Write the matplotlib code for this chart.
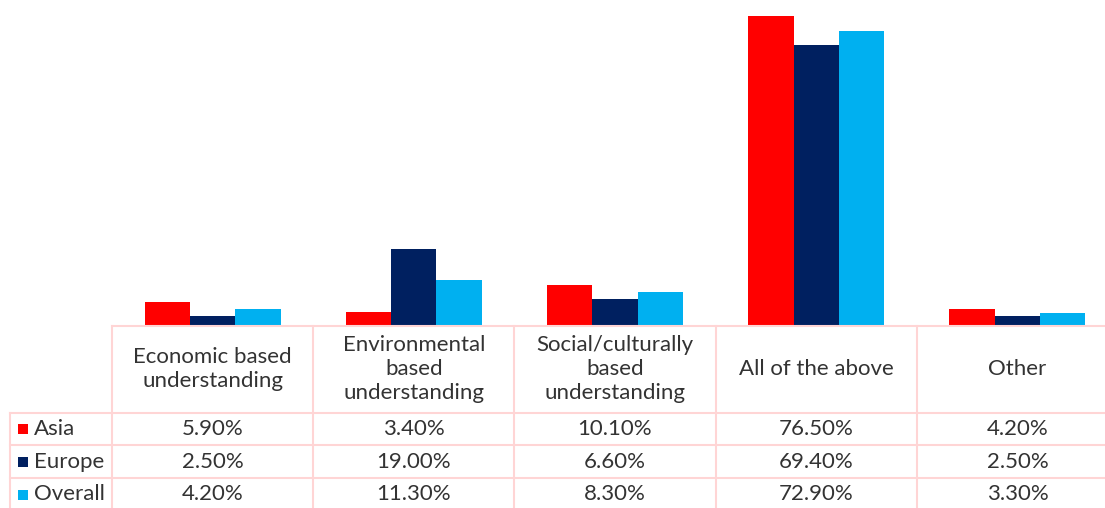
import matplotlib.pyplot as plt
from matplotlib.transforms import blended_transform_factory
import numpy as np

categories = ["Economic based\nunderstanding", "Environmental\nbased\nunderstanding",
              "Social/culturally\nbased\nunderstanding", "All of the above", "Other"]
series = ["Asia", "Europe", "Overall"]
asia = [5.9, 3.4, 10.1, 76.5, 4.2]
europe = [2.5, 19.0, 6.6, 69.4, 2.5]
overall = [4.2, 11.3, 8.3, 72.9, 3.3]
colors = ["#FF0000", "#002060", "#00B0F0"]

plt.rcParams['font.family'] = ['Lato', 'DejaVu Sans']
W, H = 1105, 508
fig = plt.figure(figsize=(W / 100, H / 100), dpi=100)

def fx(px):
    return px / W

def fy(px):
    return 1 - px / H

# axes spans x 112..1118 px (last column cut off by figure edge), y 2..326 px
ax = fig.add_axes([fx(112), fy(326), fx(1118 - 112), (326 - 2) / H])
x = np.arange(len(categories))
w = 0.225
for i, (vals, c) in enumerate(zip([asia, europe, overall], colors)):
    ax.bar(x + (i - 1) * w, vals, width=w, color=c, linewidth=0)
ax.set_xlim(-0.5, len(categories) - 0.5)
ax.set_ylim(0, 80)
ax.axis("off")

line_c = "#FFD5D5"
tr = blended_transform_factory(ax.transData, fig.transFigure)
txt_c = "#333333"
fs = 16

# table grid
row_y = [326, 413, 445, 478, 511]
for k, y in enumerate(row_y):
    x0 = 112 if k == 0 else 10
    fig.add_artist(plt.Line2D([fx(x0), fx(1118)], [fy(y), fy(y)], color=line_c, lw=1.5))
fig.add_artist(plt.Line2D([fx(10), fx(10)], [fy(413), fy(511)], color=line_c, lw=1.5))
for b in np.arange(len(categories) + 1) - 0.5:
    ax.plot([b, b], [fy(326), fy(511)], transform=tr, color=line_c, lw=1.5, clip_on=False)

# header
for xi, cat in zip(x, categories):
    ax.text(xi, fy(369), cat, transform=tr, ha="center", va="center", fontsize=fs,
            color=txt_c, linespacing=1.22)

# data rows
for r, (name, vals, c) in enumerate(zip(series, [asia, europe, overall], colors)):
    yc = fy((row_y[r + 1] + row_y[r + 2]) / 2)
    fig.add_artist(plt.Rectangle((fx(18), yc - 5 / H), 10 / W, 10 / H, color=c, lw=0))
    fig.text(fx(34), yc, name, ha="left", va="center", fontsize=fs, color=txt_c)
    for xi, v in zip(x, vals):
        ax.text(xi, yc, f"{v:.2f}%", transform=tr, ha="center", va="center",
                fontsize=fs, color=txt_c)

fig.savefig("out.png", dpi=100)
